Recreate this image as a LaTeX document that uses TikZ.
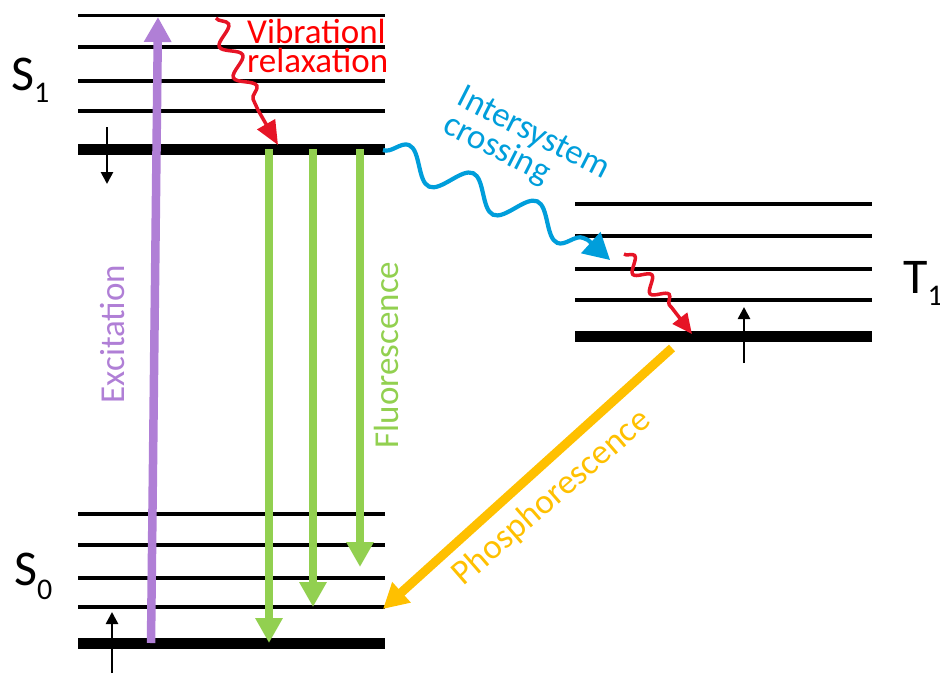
\documentclass[tikz,border=0pt]{standalone}
\usepackage{fontspec}
\setmainfont{Carlito}
\usetikzlibrary{arrows.meta,decorations.pathmorphing}
\definecolor{excpurple}{RGB}{176,127,214}
\definecolor{fluogreen}{RGB}{146,208,80}
\definecolor{phosorange}{RGB}{255,192,0}
\definecolor{iscblue}{RGB}{0,158,219}
\definecolor{vrred}{RGB}{230,20,38}
\newcommand\statesub[2]{\raisebox{-#1}{\fontsize{30}{30}\selectfont #2}}
\begin{document}
\begin{tikzpicture}[x=1pt,y=-1pt,
    level/.style={line width=3.3pt},
    ground/.style={line width=11pt},
    spin/.style={line width=2.6pt,-{Triangle[width=12pt,length=12pt]}},
    radiative/.style={line width=8.5pt,-{Triangle[width=26pt,length=25pt]}},
    vibwiggle/.style={vrred,line width=3.5pt,-{Triangle[width=20pt,length=24pt]},
        decoration={snake,amplitude=#1,segment length=34pt}},
    iscwiggle/.style={iscblue,line width=4.2pt,-{Triangle[width=28pt,length=26pt]},
        decoration={snake,amplitude=15pt,segment length=70pt}},
    proclabel/.style={font=\fontsize{35}{29}\selectfont,inner sep=0pt},
    state/.style={font=\fontsize{50}{50}\selectfont,inner sep=0pt,anchor=base west}]
    \useasboundingbox (0,0) rectangle (940,673);
    \draw[level] (78,15.5) -- (385,15.5);
    \draw[level] (78,47) -- (385,47);
    \draw[level] (78,81) -- (385,81);
    \draw[level] (78,111) -- (385,111);
    \draw[ground] (78,149.5) -- (385,149.5);
    \draw[level] (78,514) -- (385,514);
    \draw[level] (78,545) -- (385,545);
    \draw[level] (78,578) -- (385,578);
    \draw[level] (78,607) -- (385,607);
    \draw[ground] (78,643.5) -- (385,643.5);
    \draw[level] (575,204) -- (872,204);
    \draw[level] (575,236) -- (872,236);
    \draw[level] (575,269) -- (872,269);
    \draw[level] (575,300) -- (872,300);
    \draw[ground] (575,336.5) -- (872,336.5);
    \node[state] (S1) at (11,90) {S\statesub{12pt}{1}};
    \node[state] (S0) at (14,585) {S\statesub{14pt}{0}};
    \node[state] (T1) at (903,293) {T\statesub{12pt}{1}};
    \coordinate (exc-start) at (151,643);
    \coordinate (exc-end) at (158,17);
    \coordinate (fluo-a) at (269,149);
    \coordinate (fluo-a-end) at (269,643);
    \coordinate (fluo-b) at (313,149);
    \coordinate (fluo-b-end) at (313,607);
    \coordinate (fluo-c) at (360,149);
    \coordinate (fluo-c-end) at (360,567);
    \coordinate (phos-start) at (672,348);
    \coordinate (phos-end) at (383,609);
    \coordinate (vr-start) at (216,18);
    \coordinate (vr-bend) at (258,110);
    \coordinate (vr-end) at (278,145);
    \coordinate (isc-start) at (383,150);
    \coordinate (isc-bend) at (588,240);
    \coordinate (isc-end) at (610,260);
    \coordinate (vrt-start) at (624,254);
    \coordinate (vrt-bend) at (672,308);
    \coordinate (vrt-end) at (692,334);
    \draw[radiative,excpurple] (exc-start) -- (exc-end);
    \draw[radiative,fluogreen] (fluo-a) -- (fluo-a-end);
    \draw[radiative,fluogreen] (fluo-b) -- (fluo-b-end);
    \draw[radiative,fluogreen] (fluo-c) -- (fluo-c-end);
    \draw[radiative,phosorange,line width=9pt] (phos-start) -- (phos-end);
    \draw[vibwiggle=9pt] (vr-start) decorate {-- (vr-bend)} -- (vr-end);
    \draw[iscwiggle] (isc-start) decorate {-- (isc-bend)} -- (isc-end);
    \draw[vibwiggle=7pt,decoration={segment length=26pt},-{Triangle[width=18pt,length=20pt]}] (vrt-start) decorate {-- (vrt-bend)} -- (vrt-end);
    \coordinate (spin-s1) at (107,127);
    \coordinate (spin-s1-end) at (107,184);
    \coordinate (spin-s0) at (112,673);
    \coordinate (spin-s0-end) at (112,612);
    \coordinate (spin-t1) at (744,363);
    \coordinate (spin-t1-end) at (744,307);
    \draw[spin] (spin-s1) -- (spin-s1-end);
    \draw[spin] (spin-s0) -- (spin-s0-end);
    \draw[spin] (spin-t1) -- (spin-t1-end);
    \node[proclabel,text=red,align=left,anchor=base west] (vr-text) at (247,72) {Vibrationl\\relaxation};
    \node[proclabel,text=iscblue,align=left,rotate=-27] (isc-text) at (526,148) {Intersystem\\crossing};
    \node[proclabel,text=excpurple,rotate=90,anchor=base] (exc-text) at (124,334) {Excitation};
    \node[proclabel,text=fluogreen,rotate=90,anchor=base] (fluo-text) at (398,355) {Fluorescence};
    \node[proclabel,text=phosorange,rotate=41] (phos-text) at (552,498) {Phosphorescence};
\end{tikzpicture}
\end{document}
